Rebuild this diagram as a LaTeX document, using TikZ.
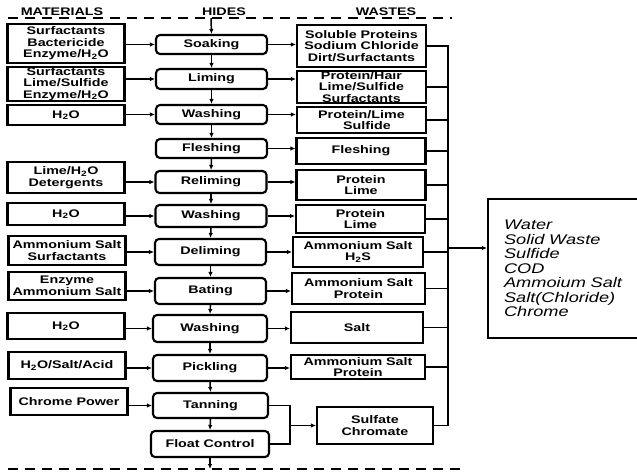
\documentclass[tikz,border=0pt]{standalone}
\usepackage{fontspec}
\setmainfont{Liberation Sans}[FakeStretch=1.3, BoldFont={Liberation Sans Bold}, BoldFeatures={FakeStretch=1.3}]
\usetikzlibrary{arrows.meta}

\tikzset{
  >={Latex[length=5pt,width=4.5pt]},
  every node/.style={font=\bfseries\fontsize{11}{11.5}\selectfont, align=center, inner sep=0pt},
  matbox/.style={draw, line width=2.1pt, minimum width=117pt},
  procbox/.style={draw, line width=2.1pt, rounded corners=4pt, minimum width=111pt},
  wastebox/.style={draw, line width=2.1pt, minimum width=129pt},
  flow/.style={line width=1.5pt},
  sepline/.style={dashed, dash pattern=on 10pt off 7pt, line width=1.6pt}
}

\begin{document}
\begin{tikzpicture}[x=1pt, y=-1pt]
    \useasboundingbox (0,0) rectangle (637,472);

    % headings and dashed borders
    \node (hmat) at (62,12) {MATERIALS};
    \node (hhid) at (224,12) {HIDES};
    \node (hwas) at (386,12) {WASTES};
    \draw[sepline] (8,18) -- (452,18);
    \draw[sepline] (8,469) -- (460,469);
    \coordinate (top) at (211,18);
    \coordinate (bot) at (210,469);

    % materials
    \node[matbox, minimum height=39pt] (m1) at (66,43.5) {Surfactants\\Bactericide\\Enzyme/H\textsubscript{2}O};
    \node[matbox, minimum height=34pt] (m2) at (66,84) {Surfactants\\Lime/Sulfide\\Enzyme/H\textsubscript{2}O};
    \node[matbox, minimum height=20pt] (m3) at (66,115) {H\textsubscript{2}O};
    \node[matbox, minimum height=31pt] (m4) at (66,177.5) {Lime/H\textsubscript{2}O\\Detergents};
    \node[matbox, minimum height=22pt] (m5) at (66,214) {H\textsubscript{2}O};
    \node[matbox, minimum height=29pt] (m6) at (67,250.5) {Ammonium Salt\\Surfactants};
    \node[matbox, minimum height=28pt] (m7) at (67,286) {Enzyme\\Ammonium Salt};
    \node[matbox, minimum height=26pt] (m8) at (66,326) {H\textsubscript{2}O};
    \node[matbox, minimum height=27pt] (m9) at (67,365.5) {H\textsubscript{2}O/Salt/Acid};
    \node[matbox, minimum height=27pt] (m10) at (69,401.5) {Chrome Power};

    % process steps
    \node[procbox, minimum height=19pt] (p1) at (211.5,44.5) {Soaking};
    \node[procbox, minimum height=20pt] (p2) at (211.5,79) {Liming};
    \node[procbox, minimum height=19pt] (p3) at (211.5,114.5) {Washing};
    \node[procbox, minimum height=19pt] (p4) at (211.5,148.5) {Fleshing};
    \node[procbox, minimum height=22pt] (p5) at (211,182) {Reliming};
    \node[procbox, minimum height=22pt] (p6) at (211,216) {Washing};
    \node[procbox, minimum height=26pt] (p7) at (210.5,252) {Deliming};
    \node[procbox, minimum height=26pt] (p8) at (210.5,291) {Bating};
    \node[procbox, minimum height=27pt, minimum width=114pt] (p9) at (210,328.5) {Washing};
    \node[procbox, minimum height=26pt, minimum width=114pt] (p10) at (210,368) {Pickling};
    \node[procbox, minimum height=25pt, minimum width=115pt] (p11) at (210.5,405.5) {Tanning};
    \node[procbox, minimum height=26pt, minimum width=118pt] (p12) at (210,444) {Float Control};

    % wastes
    \node[wastebox, minimum height=42pt] (w1) at (361.5,46) {Soluble Proteins\\Sodium Chloride\\Dirt/Surfactants};
    \node[wastebox, minimum height=32pt] (w2) at (361.5,87) {Protein/Hair\\Lime/Sulfide\\Surfactants};
    \node[wastebox, minimum height=26pt] (w3) at (361.5,120) {Protein/Lime\\\quad Sulfide};
    \node[wastebox, minimum height=26pt] (w4) at (361,151) {Fleshing};
    \node[wastebox, minimum height=30pt] (w5) at (361,185) {Protein\\Lime};
    \node[wastebox, minimum height=28pt] (w6) at (360.5,219) {Protein\\Lime};
    \node[wastebox, minimum height=30pt, minimum width=130pt] (w7) at (358,252) {Ammonium Salt\\H\textsubscript{2}S};
    \node[wastebox, minimum height=31pt, minimum width=133pt] (w8) at (358.5,288.5) {Ammonium Salt\\Protein};
    \node[wastebox, minimum height=31pt, minimum width=132pt] (w9) at (357,327.5) {Salt};
    \node[wastebox, minimum height=24pt, minimum width=134pt] (w10) at (358,367) {Ammonium Salt\\Protein};
    \node[wastebox, minimum height=37pt, minimum width=116pt] (w11) at (375,425.5) {Sulfate\\Chromate};

    % summary
    \node[draw, line width=2.1pt, anchor=north west, minimum height=139pt, text width=126pt,
          inner xsep=16pt, align=left, font=\mdseries\itshape\fontsize{14}{14.5}\selectfont]
          (sum) at (487,198) {Water\\Solid Waste\\Sulfide\\COD\\Ammoium Salt\\Salt(Chloride)\\Chrome};

    % hides line
    \draw[flow, ->] (top) -- (p1.north);
    \foreach \a/\b in {p1/p2, p2/p3, p3/p4, p4/p5, p5/p6, p6/p7, p7/p8, p8/p9, p9/p10, p10/p11, p11/p12}
        \draw[flow, ->] (\a.south) -- (\b.north);
    \draw[flow, ->] (p12.south) -- (bot);

    % materials in (no material for fleshing)
    \foreach \m/\p in {m1/p1, m2/p2, m3/p3, m4/p5, m5/p6, m6/p7, m7/p8, m8/p9, m9/p10, m10/p11}
        \draw[flow, ->] (\m.east |- \p.west) -- (\p.west);

    % wastes out
    \foreach \i in {1,...,10}
        \draw[flow, ->] (p\i.east) -- (p\i.east -| w\i.west);

    \coordinate (tj) at (290,0);
    \draw[flow] (p11.east) -- (p11.east -| tj) -- (p12.east -| tj) -- (p12.east);
    \draw[flow, ->] (tj |- w11.west) -- (w11.west);

    % collector
    \coordinate (cx) at (448,0);
    \draw[flow, line width=1.8pt] (w1.east) -- (w1.east -| cx) -- (w11.east -| cx) -- (w11.east);
    \foreach \i in {2,...,10}
        \draw[flow] (w\i.east) -- (w\i.east -| cx);
    \coordinate (ca) at (448,248);
    \draw[flow, ->] (ca) -- (ca -| sum.west);
\end{tikzpicture}
\end{document}
